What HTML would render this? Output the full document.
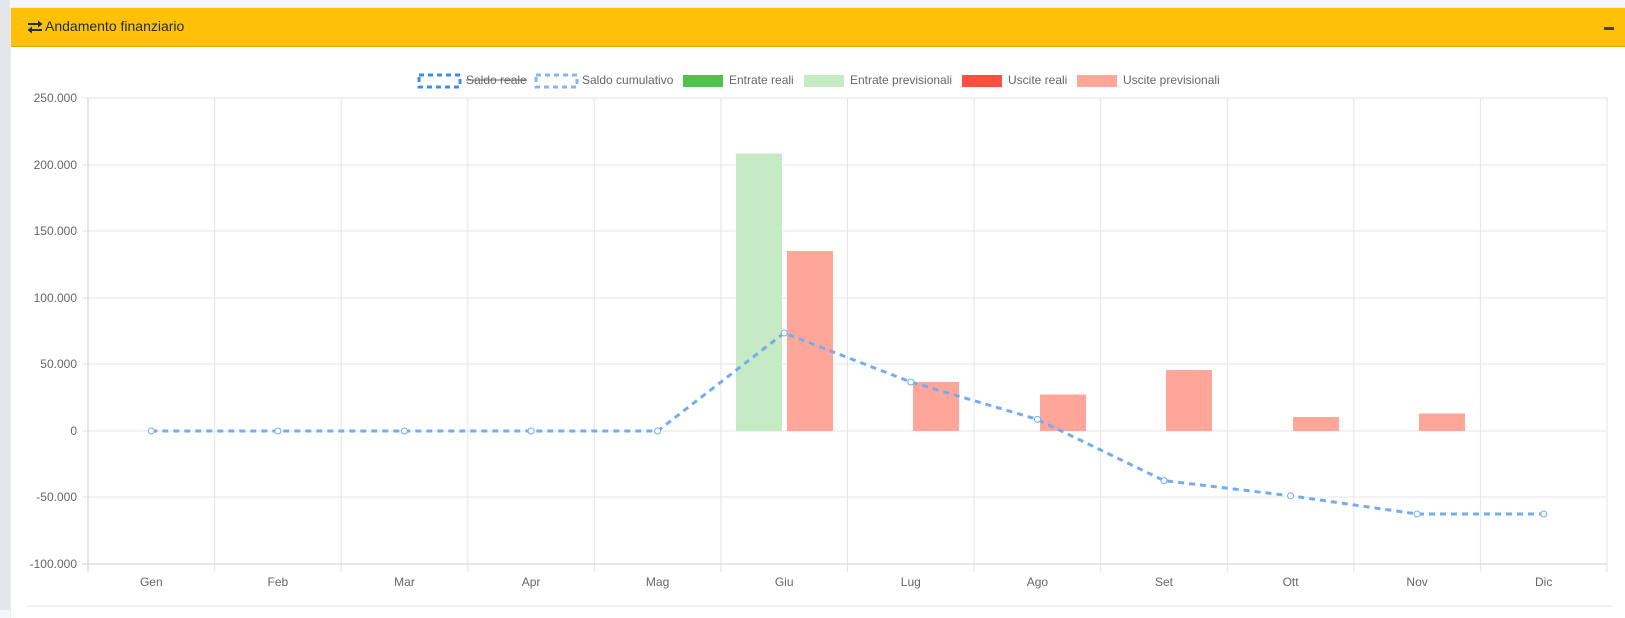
<!DOCTYPE html>
<html><head><meta charset="utf-8"><style>
body{margin:0;width:1625px;height:610px;background:#f4f6f9;overflow:hidden;font-family:"Liberation Sans",sans-serif;position:relative}
.strip{position:absolute;left:0;top:0;width:10px;height:610px;background:#e4e6ea}
.card{position:absolute;left:11px;top:8px;width:1614px;height:610px;background:#fff;box-shadow:0 0 1px rgba(0,0,0,.2)}
.hdr{position:absolute;left:11px;top:8px;width:1614px;height:38px;background:#ffc107;border-bottom:1px solid #e0a800}
.title{position:absolute;left:45px;top:18px;font-size:14px;color:#1f2d3d}
</style></head><body>
<div class="strip"></div>
<div class="card"></div>
<div class="hdr"></div>
<svg width="16" height="14" style="position:absolute;left:27px;top:20px" viewBox="0 0 16 14">
<g stroke="#1f2d3d" stroke-width="2" fill="#1f2d3d">
<line x1="1" y1="4" x2="12" y2="4"/><polygon points="11,0.5 15.5,4 11,7.5" stroke-width="0"/>
<line x1="4" y1="10" x2="15" y2="10"/><polygon points="5,6.5 0.5,10 5,13.5" stroke-width="0"/>
</g></svg>
<div class="title">Andamento finanziario</div>
<div style="position:absolute;left:1604px;top:27px;width:10px;height:3px;background:#444"></div>
<svg width="1625" height="610" style="position:absolute;left:0;top:0" font-family="Liberation Sans, sans-serif">
<g stroke="#e5e5e5" stroke-width="1">
<line x1="88" y1="98" x2="1607" y2="98"/><line x1="88" y1="165" x2="1607" y2="165"/><line x1="88" y1="231" x2="1607" y2="231"/><line x1="88" y1="298" x2="1607" y2="298"/><line x1="88" y1="364" x2="1607" y2="364"/><line x1="88" y1="431" x2="1607" y2="431"/><line x1="88" y1="497" x2="1607" y2="497"/>
<line x1="82" y1="98" x2="88" y2="98"/><line x1="82" y1="165" x2="88" y2="165"/><line x1="82" y1="231" x2="88" y2="231"/><line x1="82" y1="298" x2="88" y2="298"/><line x1="82" y1="364" x2="88" y2="364"/><line x1="82" y1="431" x2="88" y2="431"/><line x1="82" y1="497" x2="88" y2="497"/>
<line x1="214.6" y1="98" x2="214.6" y2="572"/><line x1="341.2" y1="98" x2="341.2" y2="572"/><line x1="467.8" y1="98" x2="467.8" y2="572"/><line x1="594.3" y1="98" x2="594.3" y2="572"/><line x1="720.9" y1="98" x2="720.9" y2="572"/><line x1="847.5" y1="98" x2="847.5" y2="572"/><line x1="974.1" y1="98" x2="974.1" y2="572"/><line x1="1100.7" y1="98" x2="1100.7" y2="572"/><line x1="1227.3" y1="98" x2="1227.3" y2="572"/><line x1="1353.8" y1="98" x2="1353.8" y2="572"/><line x1="1480.4" y1="98" x2="1480.4" y2="572"/><line x1="1607" y1="98" x2="1607" y2="572"/>
</g>
<g stroke="#cfcfcf"><line x1="88" y1="98" x2="88" y2="572"/><line x1="82" y1="564" x2="1607" y2="564"/></g>
<line x1="27" y1="606" x2="1612" y2="606" stroke="#e3e3e3"/>
<g font-size="12" fill="#666" text-anchor="end">
<text x="77" y="102">250.000</text><text x="77" y="169">200.000</text><text x="77" y="235">150.000</text><text x="77" y="302">100.000</text><text x="77" y="368">50.000</text><text x="77" y="435">0</text><text x="77" y="501">-50.000</text><text x="77" y="568">-100.000</text>
</g>
<g font-size="12" fill="#666" text-anchor="middle">
<text x="151.3" y="586">Gen</text><text x="277.9" y="586">Feb</text><text x="404.5" y="586">Mar</text><text x="531.1" y="586">Apr</text><text x="657.6" y="586">Mag</text><text x="784.2" y="586">Giu</text><text x="910.8" y="586">Lug</text><text x="1037.4" y="586">Ago</text><text x="1164" y="586">Set</text><text x="1290.6" y="586">Ott</text><text x="1417.1" y="586">Nov</text><text x="1543.7" y="586">Dic</text>
</g>
<rect x="736" y="153.5" width="46" height="277.5" fill="#c6ebc4"/>
<g fill="#ffa69b">
<rect x="787" y="251" width="46" height="180"/>
<rect x="913" y="382" width="46" height="49"/>
<rect x="1040" y="394.5" width="46" height="36.5"/>
<rect x="1166" y="370" width="46" height="61"/>
<rect x="1293" y="417" width="46" height="14"/>
<rect x="1419" y="413.5" width="46" height="17.5"/>
</g>
<polyline fill="none" stroke="#72adf2" stroke-width="3" stroke-dasharray="6,5" points="151.3,431 277.9,431 404.5,431 531.1,431 657.6,431 784.2,333 910.8,382 1037.4,419.4 1164,480.6 1290.6,495.8 1417.1,514 1543.7,514"/>
<g fill="#fff" stroke="#72adf2" stroke-width="1">
<circle cx="151.3" cy="431" r="3"/><circle cx="277.9" cy="431" r="3"/><circle cx="404.5" cy="431" r="3"/><circle cx="531.1" cy="431" r="3"/><circle cx="657.6" cy="431" r="3"/><circle cx="784.2" cy="333" r="3"/><circle cx="910.8" cy="382" r="3"/><circle cx="1037.4" cy="419.4" r="3"/><circle cx="1164" cy="480.6" r="3"/><circle cx="1290.6" cy="495.8" r="3"/><circle cx="1417.1" cy="514" r="3"/><circle cx="1543.7" cy="514" r="3"/>
</g>
<g font-size="12" fill="#666">
<rect x="419" y="75" width="41" height="12" fill="#fff" stroke="#3a8ef0" stroke-width="3" stroke-dasharray="5,4"/>
<text x="466" y="84">Saldo reale</text>
<line x1="466" y1="80" x2="527" y2="80" stroke="#666"/>
<rect x="536" y="75" width="41" height="12" fill="#fff" stroke="#85b8f2" stroke-width="3" stroke-dasharray="5,4"/>
<text x="582" y="84">Saldo cumulativo</text>
<rect x="683" y="75" width="40" height="12" fill="#4fc24f"/>
<text x="729" y="84">Entrate reali</text>
<rect x="804" y="75" width="40" height="12" fill="#c6ebc4"/>
<text x="850" y="84">Entrate previsionali</text>
<rect x="962" y="75" width="40" height="12" fill="#ff4d40"/>
<text x="1008" y="84">Uscite reali</text>
<rect x="1077" y="75" width="40" height="12" fill="#ffa69b"/>
<text x="1123" y="84">Uscite previsionali</text>
</g>
</svg>
</body></html>
